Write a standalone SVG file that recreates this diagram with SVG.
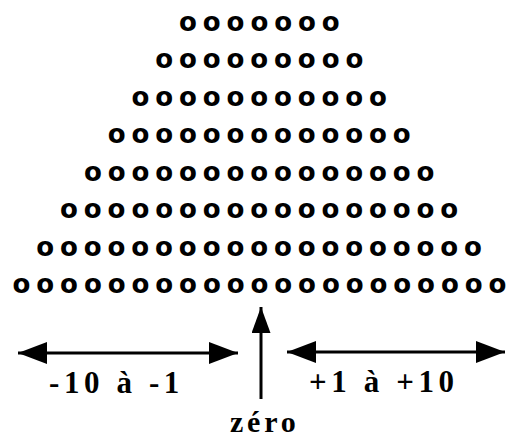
<svg xmlns="http://www.w3.org/2000/svg" width="507" height="439" viewBox="0 0 507 439">
  <style>
    .row { font-family: "DejaVu Sans", Verdana, sans-serif; font-weight: bold; font-size: 26px; letter-spacing: 5.9px; fill: #000; }
    .row.placed { letter-spacing: 0; }
    .lbl { font-family: "Liberation Serif", "Times New Roman", serif; font-weight: bold; font-size: 31px; letter-spacing: 4.6px; fill: #000; }
    .axis { stroke: #000; stroke-width: 3; fill: none; }
  </style>
  <defs>
    <marker id="headH" markerUnits="userSpaceOnUse" markerWidth="29" markerHeight="22" refX="29" refY="11" orient="auto-start-reverse" viewBox="0 0 29 22">
      <path d="M0,0 L29,11 L0,22 z" fill="#000"/>
    </marker>
    <marker id="headV" markerUnits="userSpaceOnUse" markerWidth="26" markerHeight="19" refX="26" refY="9.5" orient="auto" viewBox="0 0 26 19">
      <path d="M0,0 L26,9.5 L0,19 z" fill="#000"/>
    </marker>
  </defs>

  <!-- stacked rows of counters, widening by two per row -->
  <g id="pyramid">
    <text class="row" x="179.1" y="31">ooooooo</text>
    <text class="row" x="155.3" y="68.4">ooooooooo</text>
    <text class="row" x="131.5" y="105.9">ooooooooooo</text>
    <text class="row" x="107.7" y="143.3">ooooooooooooo</text>
    <text class="row" x="83.9" y="180.7">ooooooooooooooo</text>
    <text class="row" x="60.1" y="218.1">ooooooooooooooooo</text>
    <text class="row" x="36.3" y="255.6">ooooooooooooooooooo</text>
    <!-- bottom row placed glyph by glyph so no trailing spacing runs past the edge -->
    <text class="row placed" x="12.5 36.3 60.1 83.9 107.7 131.5 155.3 179.1 202.9 226.7 250.5 274.3 298.1 321.9 345.7 369.5 393.3 417.1 440.9 464.7 488.5" y="293">ooooooooooooooooooooo</text>
  </g>

  <g id="connectors">
    <line id="range-negative" class="axis" x1="18" y1="353" x2="238" y2="353" marker-start="url(#headH)" marker-end="url(#headH)"/>
    <line id="range-positive" class="axis" x1="287" y1="352" x2="505" y2="352" marker-start="url(#headH)" marker-end="url(#headH)"/>
    <line id="zero-pointer" class="axis" x1="261" y1="399" x2="261" y2="307" marker-end="url(#headV)"/>
  </g>

  <g id="label-negative"><text class="lbl" x="49" y="393">-10 à -1</text></g>
  <g id="label-positive"><text class="lbl" x="309" y="392">+1 à +10</text></g>
  <g id="label-zero"><text class="lbl" x="230" y="432" style="font-size:30px;letter-spacing:3.8px">zéro</text></g>
</svg>
